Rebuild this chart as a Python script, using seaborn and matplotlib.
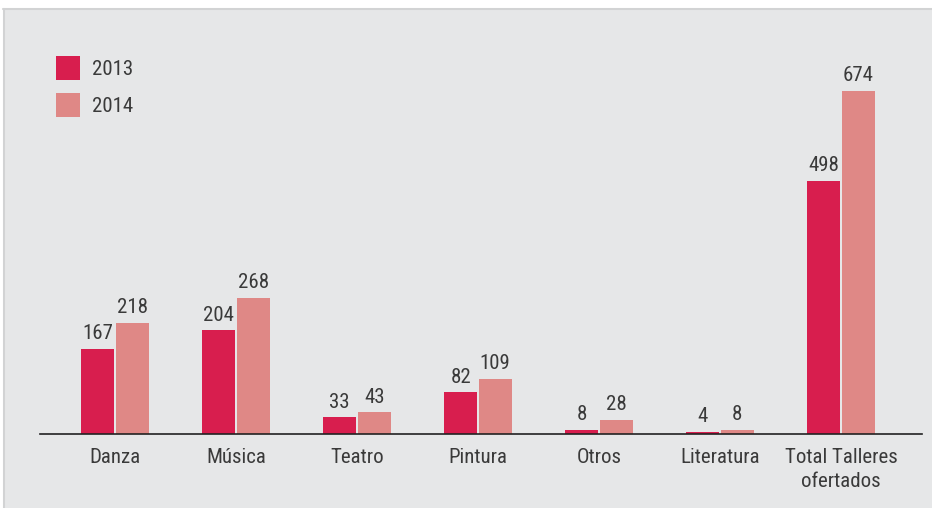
import matplotlib
matplotlib.use("Agg")
import matplotlib.pyplot as plt
from matplotlib.patches import Rectangle, Patch
from matplotlib.lines import Line2D
import seaborn as sns
import pandas as pd

# Talleres ofertados por disciplina
categories = ["Danza", "Música", "Teatro", "Pintura", "Otros", "Literatura",
              "Total Talleres\nofertados"]
years = ["2013", "2014"]
values_2013 = [167, 204, 33, 82, 8, 4, 498]
values_2014 = [218, 268, 43, 109, 28, 8, 674]

df = pd.DataFrame({
    "categoria": categories * 2,
    "anio": [years[0]] * len(categories) + [years[1]] * len(categories),
    "talleres": values_2013 + values_2014,
})

sns.set_theme(style="white")
plt.rcParams["font.family"] = ["Roboto Condensed", "DejaVu Sans"]
plt.rcParams["font.stretch"] = "condensed"

FS = 15
panel = "#e6e7e8"
border = "#d2d3d4"
text_color = "#3a3a3a"
palette = {"2013": "#d81e4e", "2014": "#df8886"}

fig = plt.figure(figsize=(9.32, 5.08), dpi=100, facecolor="white")
W, H = 932, 508
# gray panel with a thin light border on top and left
fig.patches.append(Rectangle((3 / W, 0), 1, (H - 9) / H, transform=fig.transFigure,
                             facecolor=panel, edgecolor="none", zorder=-10))
fig.lines.append(Line2D([3 / W, 1], [(H - 9) / H] * 2, transform=fig.transFigure,
                        color=border, linewidth=1.5, zorder=-9))
fig.lines.append(Line2D([3.5 / W] * 2, [0, (H - 9) / H], transform=fig.transFigure,
                        color=border, linewidth=1.5, zorder=-9))

ax = fig.add_axes([40 / W, (H - 434) / H, (922 - 40) / W, (434 - 10) / H])
ax.set_facecolor("none")

sns.barplot(data=df, x="categoria", y="talleres", hue="anio", palette=palette,
            width=0.57, gap=0.05, saturation=1, linewidth=0, ax=ax, legend=False)

for container in ax.containers:
    ax.bar_label(container, fmt="%d", padding=4, fontsize=FS, color=text_color)

ax.set_xlim(-0.62, 6.67)
ax.set_ylim(0, 833)
ax.set_xlabel("")
ax.set_ylabel("")
ax.set_yticks([])
ax.tick_params(axis="x", length=0, pad=10, labelsize=FS, labelcolor=text_color)
for lbl in ax.get_xticklabels():
    lbl.set_linespacing(1.35)
for side in ["top", "right", "left"]:
    ax.spines[side].set_visible(False)
ax.spines["bottom"].set_color("#222222")
ax.spines["bottom"].set_linewidth(1.2)

handles = [Patch(facecolor=palette[y], edgecolor="none", label=y) for y in years]
leg = fig.legend(handles=handles, loc="upper left",
                 bbox_to_anchor=(56 / W, (H - 56) / H),
                 frameon=False, fontsize=FS, handlelength=1.15, handleheight=1.4,
                 handletextpad=0.6, labelspacing=0.62, borderaxespad=0, borderpad=0)
for t in leg.get_texts():
    t.set_color(text_color)

fig.savefig("out.png", dpi=100, facecolor="white")
